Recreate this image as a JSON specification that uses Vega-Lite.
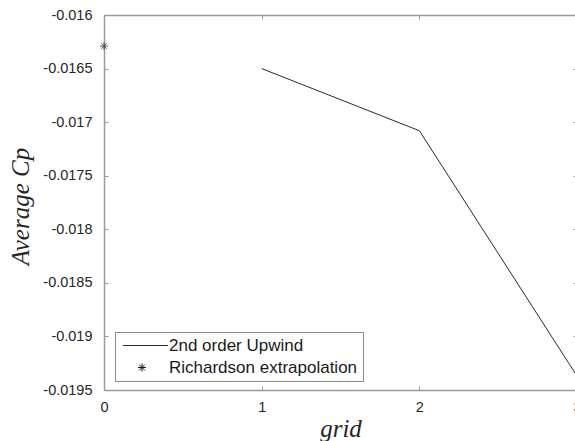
{
  "$schema": "https://vega.github.io/schema/vega-lite/v6.json",
  "width": 473,
  "height": 375,
  "autosize": {"type": "none"},
  "padding": {"left": 104, "top": 15, "right": 0, "bottom": 51},
  "background": "white",
  "config": {
    "view": {"stroke": null},
    "font": "Liberation Sans",
    "axis": {
      "grid": false,
      "domainColor": "#9a9a9a",
      "domainWidth": 1.5,
      "tickColor": "#9a9a9a",
      "tickWidth": 1,
      "tickSize": -4,
      "labelFont": "Liberation Sans",
      "labelFontSize": 14.5,
      "labelColor": "#262626",
      "titleFont": "Liberation Serif",
      "titleFontStyle": "italic",
      "titleFontWeight": "normal",
      "titleFontSize": 25,
      "titleColor": "#262626"
    }
  },
  "layer": [
    {
      "data": {
        "values": [
          {"grid": 1, "cp": -0.0165, "series": "2nd order Upwind"},
          {"grid": 2, "cp": -0.01708, "series": "2nd order Upwind"},
          {"grid": 3, "cp": -0.01937, "series": "2nd order Upwind"}
        ]
      },
      "mark": {"type": "line", "strokeWidth": 1},
      "encoding": {
        "x": {
          "field": "grid",
          "type": "quantitative",
          "scale": {"domain": [0, 3], "nice": false, "zero": false},
          "axis": {
            "orient": "bottom",
            "values": [0, 1, 2, 3],
            "format": "d",
            "labelPadding": 14,
            "labelFlush": false,
            "labelOverlap": false,
            "title": "grid",
            "titleBaseline": "alphabetic",
            "titleY": 46
          }
        },
        "y": {
          "field": "cp",
          "type": "quantitative",
          "scale": {"domain": [-0.0195, -0.016], "nice": false, "zero": false},
          "axis": {
            "orient": "left",
            "values": [-0.0195, -0.019, -0.0185, -0.018, -0.0175, -0.017, -0.0165, -0.016],
            "labelExpr": "replace(format(datum.value, '.3~g'), '\u2212', '-')",
            "labelPadding": 16,
            "labelFlush": false,
            "labelOverlap": false,
            "title": "Average Cp",
            "titleAngle": -90,
            "titleBaseline": "alphabetic",
            "titleX": -76,
            "titleY": 191
          }
        },
        "color": {
          "field": "series",
          "type": "nominal",
          "scale": {
            "domain": ["2nd order Upwind", "Richardson extrapolation"],
            "range": ["#2a2a2a", "#1a1a1a"]
          },
          "legend": {
            "orient": "none",
            "legendX": 11,
            "legendY": 317,
            "title": null,
            "strokeColor": "#8a8a8a",
            "fillColor": "white",
            "padding": 5,
            "rowPadding": 4,
            "labelFont": "Liberation Sans",
            "labelFontSize": 17,
            "labelColor": "#1a1a1a",
            "labelLimit": 400,
            "labelOffset": 32,
            "symbolSize": 100,
            "symbolStrokeWidth": 1,
            "encode": {
              "symbols": {
                "update": {
                  "shape": {"signal": "datum.value === 'Richardson extrapolation' ? 'M1.9,0L3.5,0M2.7,-0.8L2.7,0.8M2.13,-0.57L3.27,0.57M2.13,0.57L3.27,-0.57' : 'M-1.1,0L7.9,0'"},
                  "fill": {"value": "transparent"},
                  "stroke": {"value": "#2a2a2a"},
                  "strokeWidth": {"value": 1}
                }
              }
            }
          }
        }
      }
    },
    {
      "data": {
        "values": [
          {"grid": 0, "cp": -0.01629, "series": "Richardson extrapolation"}
        ]
      },
      "mark": {
        "type": "point",
        "shape": "M-1,0L1,0M0,-1L0,1M-0.7,-0.7L0.7,0.7M-0.7,0.7L0.7,-0.7",
        "filled": false,
        "size": 64,
        "strokeWidth": 1
      },
      "encoding": {
        "x": {
          "field": "grid",
          "type": "quantitative",
          "axis": {"orient": "top", "values": [0, 1, 2, 3], "labels": false, "title": null}
        },
        "y": {
          "field": "cp",
          "type": "quantitative",
          "axis": {
            "orient": "right",
            "values": [-0.0195, -0.019, -0.0185, -0.018, -0.0175, -0.017, -0.0165, -0.016],
            "labels": false,
            "title": null
          }
        },
        "color": {"field": "series", "type": "nominal"}
      }
    }
  ],
  "resolve": {"axis": {"x": "independent", "y": "independent"}}
}
